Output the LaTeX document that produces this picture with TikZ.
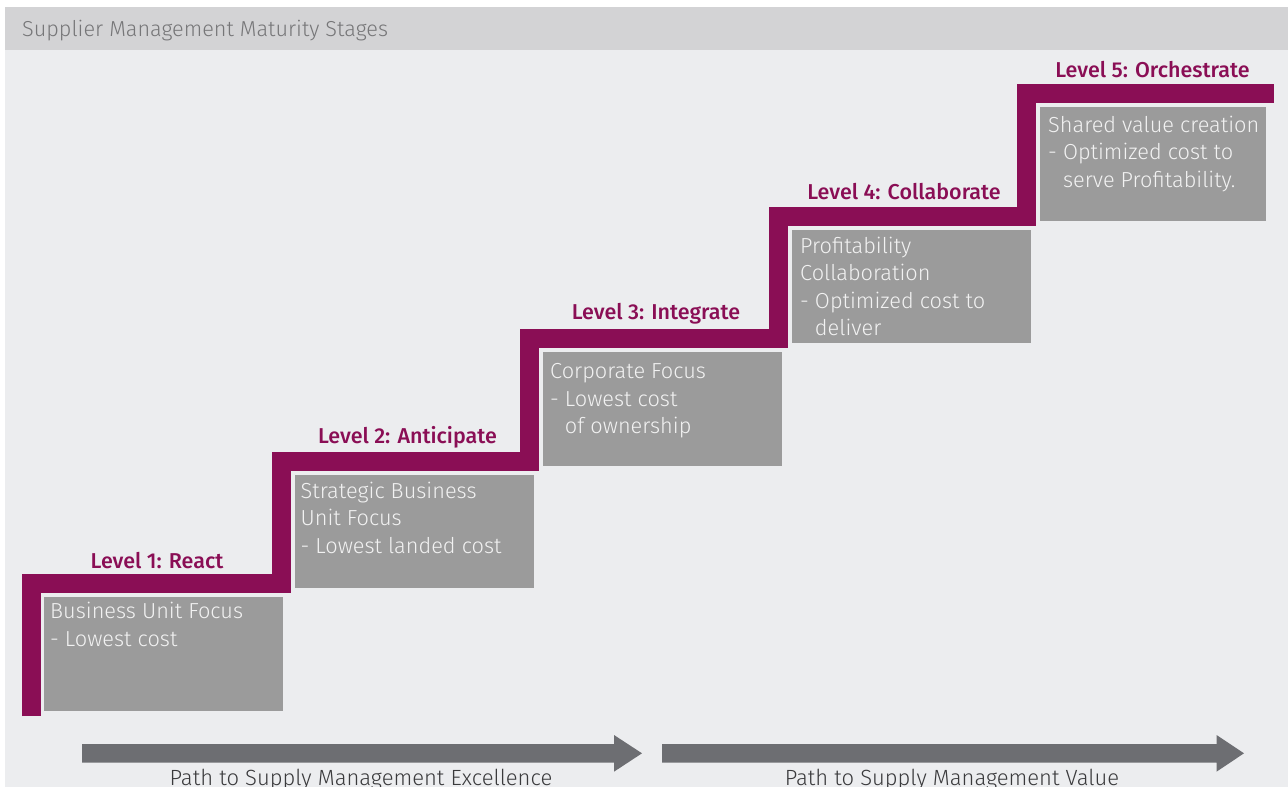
\documentclass[tikz,border=0pt]{standalone}
\usepackage{fontspec}
\setmainfont{Fira Sans}[UprightFont={* Light}, BoldFont={* Medium}]
\definecolor{hdrgray}{HTML}{D3D3D5}
\definecolor{bodygray}{HTML}{ECEDEF}
\definecolor{magenta}{HTML}{8A0E55}
\definecolor{boxgray}{HTML}{9B9B9B}
\definecolor{boxtext}{HTML}{F2F2F2}
\definecolor{arrowgray}{HTML}{6D6E72}
\definecolor{hdrtext}{HTML}{767678}
\definecolor{pathtext}{HTML}{3A3A3C}
\begin{document}
\begin{tikzpicture}[x=1pt,y=-1pt,
  stair/.style={draw=magenta, line width=19pt, line join=miter, line cap=butt},
  stepbox/.style={fill=boxgray, draw=none, rectangle, inner sep=0, anchor=north west},
  boxtxt/.style={text=boxtext, font=\fontsize{21.75}{26}\selectfont, inner sep=0, anchor=base west},
  lvl/.style={text=magenta, font=\bfseries\fontsize{21.5}{26}\selectfont, inner sep=0, anchor=base},
  pathtxt/.style={text=pathtext, font=\fontsize{22}{26}\selectfont, inner sep=0, anchor=base},
  patharrow/.style={fill=arrowgray, draw=none}]
\useasboundingbox (0,0) rectangle (1288,787);
\fill[white] (0,0) rectangle (1288,787);
% background
\fill[bodygray] (5,50) rectangle (1288,787);
\fill[hdrgray] (5,7) rectangle (1288,50);
\node[text=hdrtext, font=\fontsize{21.65}{26}\selectfont, inner sep=0, anchor=base west] (title) at (22,36) {Supplier Management Maturity Stages};
% stair
\draw[stair] (31.5,716) -- (31.5,583.5) -- (281.5,583.5) -- (281.5,461.5) -- (529.5,461.5) -- (529.5,338.5) -- (778.5,338.5) -- (778.5,216.5) -- (1026.5,216.5) -- (1026.5,93.5) -- (1274,93.5);
% boxes
\node[stepbox, minimum width=239pt, minimum height=114pt] (b1) at (44,597) {};
\node[stepbox, minimum width=239pt, minimum height=113pt] (b2) at (295,475) {};
\node[stepbox, minimum width=239pt, minimum height=114pt] (b3) at (543,352) {};
\node[stepbox, minimum width=239pt, minimum height=113pt] (b4) at (792,230) {};
\node[stepbox, minimum width=226pt, minimum height=114pt] (b5) at (1040,107) {};
% level labels
\node[lvl] (l1) at (157,568) {Level 1: React};
\node[lvl] (l2) at (407.5,443) {Level 2: Anticipate};
\node[lvl] (l3) at (656,319) {Level 3: Integrate};
\node[lvl] (l4) at (904,199) {Level 4: Collaborate};
\node[lvl] (l5) at (1152.5,77) {Level 5: Orchestrate};
% box texts
\node[boxtxt] (t11) at (50,618) {Business Unit Focus};
\node[boxtxt] (t12) at (50,646) {- Lowest cost};
\node[boxtxt] (t21) at (300.5,498) {Strategic Business};
\node[boxtxt] (t22) at (300.5,525) {Unit Focus};
\node[boxtxt] (t23) at (300.5,553) {- Lowest landed cost};
\node[boxtxt] (t31) at (550,378) {Corporate Focus};
\node[boxtxt] (t32) at (550,406) {- Lowest cost};
\node[boxtxt] (t33) at (550,433) {\phantom{- }of ownership};
\node[boxtxt] (t41) at (800,253) {Profitability};
\node[boxtxt] (t42) at (800,280) {Collaboration};
\node[boxtxt] (t43) at (800,308) {- Optimized cost to};
\node[boxtxt] (t44) at (800,335) {\phantom{- }deliver};
\node[boxtxt] (t51) at (1048,132) {Shared value creation};
\node[boxtxt] (t52) at (1048,159) {- Optimized cost to};
\node[boxtxt] (t53) at (1048,187) {\phantom{- }serve Profitability.};
% path arrows
\fill[patharrow] (82,744) -- (614,744) -- (614,735) -- (642,753.3) -- (614,771.7) -- (614,762.7) -- (82,762.7) -- cycle;
\fill[patharrow] (662,744) -- (1216.5,744) -- (1216.5,735) -- (1244,753.3) -- (1216.5,771.7) -- (1216.5,762.7) -- (662,762.7) -- cycle;
\node[pathtxt] (p1) at (361,785) {Path to Supply Management Excellence};
\node[pathtxt] (p2) at (952,785) {Path to Supply Management Value};
\end{tikzpicture}
\end{document}
